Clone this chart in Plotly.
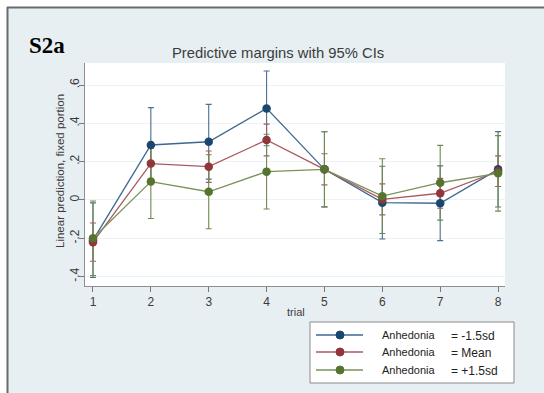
import plotly.graph_objects as go

trials = [1, 2, 3, 4, 5, 6, 7, 8]
series_names = ["Anhedonia", "Anhedonia", "Anhedonia"]
series_levels = ["= -1.5sd", "= Mean", "= +1.5sd"]
low_vals = [-0.21, 0.287, 0.304, 0.478, 0.16, -0.014, -0.017, 0.16]
low_ci = [0.195, 0.195, 0.195, 0.195, 0.196, 0.19, 0.195, 0.197]
mean_vals = [-0.22, 0.19, 0.174, 0.313, 0.16, 0.003, 0.035, 0.15]
mean_ci = [0.10, 0.08, 0.082, 0.083, 0.081, 0.081, 0.078, 0.08]
high_vals = [-0.20, 0.096, 0.043, 0.148, 0.16, 0.02, 0.09, 0.139]
high_ci = [0.195, 0.193, 0.193, 0.195, 0.196, 0.195, 0.195, 0.197]
y_tickvals = [-0.4, -0.2, 0, 0.2, 0.4, 0.6]
y_ticktext = ["-.4", "-.2", "0", ".2", ".4", ".6"]

marker_colors = ["#1a476f", "#90353b", "#55752f"]
line_colors = ["#3d6890", "#a85a60", "#7a9258"]
ci_colors = ["#4a6f90", "#9a6066", "#6f8a4f"]

vals = [low_vals, mean_vals, high_vals]
cis = [low_ci, mean_ci, high_ci]

fig = go.Figure()

# CIs first
for v, c, col in zip(vals, cis, ci_colors):
    fig.add_trace(go.Scatter(
        x=trials, y=v, mode="markers", marker=dict(size=1, color="rgba(0,0,0,0)"),
        error_y=dict(type="data", array=c, visible=True, color=col, thickness=1.1, width=3),
        showlegend=False, hoverinfo="skip"))

for v, mc, lc in zip(vals, marker_colors, line_colors):
    fig.add_trace(go.Scatter(
        x=trials, y=v, mode="lines+markers",
        line=dict(color=lc, width=1.3),
        marker=dict(size=8.5, color=mc),
        showlegend=False))

L, R, T, B = 85, 39, 63, 107
W, H = 544, 393
pw, ph = W - L - R, H - T - B

def px(x):
    return (x - L) / pw

def py(y):
    return (H - B - y) / ph

shapes = []
# white outside frame strips
shapes.append(dict(type="rect", xref="paper", yref="paper", x0=px(-5), x1=px(7), y0=py(400), y1=py(-5),
                   fillcolor="white", line=dict(width=0), layer="below"))
shapes.append(dict(type="rect", xref="paper", yref="paper", x0=px(-5), x1=px(560), y0=py(7), y1=py(-5),
                   fillcolor="white", line=dict(width=0), layer="below"))
# frame lines
shapes.append(dict(type="line", xref="paper", yref="paper", x0=px(7), x1=px(560), y0=py(7.5), y1=py(7.5),
                   line=dict(color="#6a6a6a", width=2), layer="below"))
shapes.append(dict(type="line", xref="paper", yref="paper", x0=px(7.5), x1=px(7.5), y0=py(7), y1=py(400),
                   line=dict(color="#6a6a6a", width=2), layer="below"))
# plot region white
shapes.append(dict(type="rect", xref="paper", yref="paper", x0=0, x1=1, y0=0, y1=1,
                   fillcolor="white", line=dict(width=0), layer="below"))
# legend box
shapes.append(dict(type="rect", xref="paper", yref="paper", x0=px(310), x1=px(514), y0=py(383), y1=py(322),
                   fillcolor="white", line=dict(color="#8a8a8a", width=1)))

annotations = []
rows = [335, 352, 370]
for i, yy in enumerate(rows):
    shapes.append(dict(type="line", xref="paper", yref="paper", x0=px(316), x1=px(363), y0=py(yy), y1=py(yy),
                       line=dict(color=line_colors[i], width=1.3)))
    shapes.append(dict(type="circle", xref="paper", yref="paper", x0=px(336), x1=px(344), y0=py(yy + 4), y1=py(yy - 4),
                       fillcolor=marker_colors[i], line=dict(color=marker_colors[i], width=1)))
    annotations.append(dict(xref="paper", yref="paper", x=px(380), y=py(yy), text=series_names[i],
                            showarrow=False, xanchor="left", yanchor="middle",
                            font=dict(size=11, color="#222", family="Arial")))
    annotations.append(dict(xref="paper", yref="paper", x=px(449), y=py(yy + 1), text=series_levels[i],
                            showarrow=False, xanchor="left", yanchor="middle",
                            font=dict(size=12, color="#222", family="Arial")))

annotations.append(dict(xref="paper", yref="paper", x=px(27), y=py(45), text="<b>S2a</b>",
                        showarrow=False, xanchor="left", yanchor="middle",
                        font=dict(size=23, color="#000", family="Liberation Serif")))
annotations.append(dict(xref="paper", yref="paper", x=px(278), y=py(53), text="Predictive margins with 95% CIs",
                        showarrow=False, xanchor="center", yanchor="middle",
                        font=dict(size=14.8, color="#3c3c3c", family="Arial")))
annotations.append(dict(xref="paper", yref="paper", x=px(60), y=py(171), text="Linear prediction, fixed portion",
                        showarrow=False, xanchor="center", yanchor="middle", textangle=-90,
                        font=dict(size=11.5, color="#3c3c3c", family="Arial")))
annotations.append(dict(xref="paper", yref="paper", x=px(296), y=py(312), text="trial",
                        showarrow=False, xanchor="center", yanchor="middle",
                        font=dict(size=11, color="#3c3c3c", family="Arial")))

fig.update_layout(
    width=W, height=H,
    margin=dict(l=L, r=R, t=T, b=B),
    paper_bgcolor="#e7eff2",
    plot_bgcolor="white",
    shapes=shapes,
    annotations=annotations,
    showlegend=False,
    xaxis=dict(range=[0.862, 8.12], tickvals=trials, ticks="outside", ticklen=5, tickcolor="#777",
               showgrid=False, zeroline=False, showline=True, linecolor="#8a8f96", linewidth=1,
               tickfont=dict(size=12, color="#3c3c3c", family="Arial")),
    yaxis=dict(range=[-0.449, 0.715], tickvals=y_tickvals, ticktext=y_ticktext, tickangle=-90,
               ticks="outside", ticklen=5, tickcolor="#777", ticklabelstandoff=-5,
               showgrid=True, gridcolor="#edf2f5", gridwidth=1, zeroline=False,
               showline=True, linecolor="#8a8f96", linewidth=1,
               tickfont=dict(size=12, color="#3c3c3c", family="Arial")),
)

fig.write_html("out.html", config={"displayModeBar": False},
               post_script="document.body.style.margin='0';document.body.style.overflow='hidden';")
